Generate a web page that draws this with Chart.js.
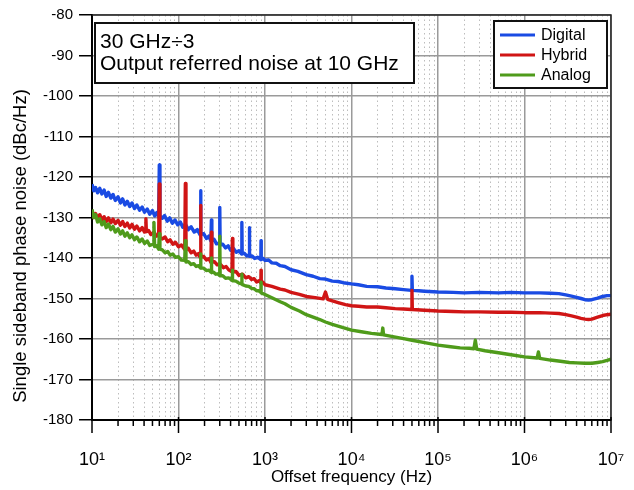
<!DOCTYPE html>
<html>
<head>
<meta charset="utf-8">
<script src="https://cdn.jsdelivr.net/npm/chart.js@4.4.0/dist/chart.umd.min.js"></script>
<style>
  html, body { margin: 0; padding: 0; background: #fff; }
</style>
</head>
<body>
<canvas id="noiseChart" width="634" height="490"></canvas>
<script>
// Serie: [frequenza Hz, dBc/Hz]
const digitalPoints = [
  [10, -121.8], [10.5, -123.4], [11, -122.6], [11.6, -123.9], [12.3, -122.8], [13, -124.2], [13.8, -123.2],
  [14.6, -124.8], [15.5, -123.8], [16.5, -125.2], [17.5, -124.3], [18.6, -125.8], [20, -124.9], [21.3, -126.4],
  [22.6, -125.4], [24, -126.9], [25.6, -126.0], [27.3, -127.3], [29, -126.4], [31, -127.8], [33, -126.9],
  [35.5, -128.2], [38, -127.4], [40.5, -128.7], [43.5, -127.9], [46.5, -129.2], [50, -128.3], [53, -129.6],
  [56, -128.8], [59, -129.8], [60, -117.0], [61, -129.6], [65, -130.2], [69, -129.5], [74, -130.9],
  [79, -130.1], [85, -131.4], [91, -130.6], [98, -131.8], [105, -131.1], [112, -132.4], [120, -131.6],
  [130, -133.0], [140, -132.3], [152, -133.6], [165, -133.0], [178, -134.3], [180, -123.4], [182, -134.2],
  [196, -134.0], [210, -135.2], [224, -134.6], [237, -135.8], [240, -130.6], [243, -135.8], [258, -135.4],
  [275, -136.5], [297, -136.2], [300, -127.5], [303, -136.8], [325, -136.6], [350, -137.5], [375, -137.0],
  [400, -138.1], [430, -137.6], [465, -138.6], [500, -138.2], [535, -139.0], [540, -131.2], [545, -139.0],
  [575, -138.8], [615, -139.5], [655, -139.2], [660, -132.5], [665, -139.6], [710, -139.5], [760, -140.1],
  [820, -139.8], [895, -140.4], [900, -135.7], [905, -140.4], [960, -140.1], [1000, -140.6],
  [1100, -140.5], [1200, -141.2], [1350, -141.3], [1500, -141.9], [1700, -142.1], [2000, -142.9],
  [2400, -143.3], [3000, -144.1], [3600, -144.5], [4300, -145.1], [5000, -145.2], [6000, -145.7],
  [7000, -145.8], [8000, -146.1], [10000, -146.4], [12000, -146.6], [15000, -147.0], [20000, -147.1],
  [25000, -147.4], [32000, -147.6], [40000, -147.8], [49500, -148.0], [50000, -144.5], [50500, -148.0],
  [60000, -148.1], [70000, -148.2], [1e5, -148.4], [1.5e5, -148.5], [2e5, -148.6], [3e5, -148.5],
  [5e5, -148.6], [7e5, -148.5], [1e6, -148.6], [1.5e6, -148.6], [2e6, -148.7], [2.5e6, -148.8],
  [3e6, -149.1], [3.5e6, -149.4], [4e6, -149.7], [4.5e6, -150.0], [5e6, -150.3], [5.5e6, -150.4],
  [6e6, -150.3], [7e6, -149.9], [8e6, -149.5], [9e6, -149.3], [1e7, -149.3]
];
const hybridPoints = [
  [10, -128.4], [10.5, -130.0], [11, -129.0], [11.6, -130.3], [12.3, -129.3], [13, -130.6], [13.8, -129.8],
  [14.6, -131.0], [15.5, -130.1], [16.5, -131.3], [17.5, -130.4], [18.6, -131.5], [20, -130.7], [21.3, -131.9],
  [22.6, -131.0], [24, -132.2], [25.6, -131.4], [27.3, -132.6], [29, -131.7], [31, -132.9], [33, -132.1],
  [35.5, -133.3], [38, -132.5], [40.5, -133.6], [41.5, -133.2], [42, -130.3], [42.5, -133.5],
  [45, -133.2], [48, -134.2], [52, -133.6], [56, -134.6], [59, -134.2], [60, -121.7], [61, -134.8],
  [65, -135.3], [70, -134.8], [75, -136.0], [80, -135.5], [86, -136.6], [92, -136.1], [100, -137.2],
  [108, -136.8], [118, -137.9], [120, -121.6], [122, -138.0], [130, -137.6], [140, -138.7], [150, -138.3],
  [160, -139.3], [170, -138.9], [178, -139.8], [180, -127.0], [182, -139.8], [195, -139.6], [210, -140.5],
  [225, -140.2], [237, -141.1], [240, -133.6], [243, -141.1], [260, -140.9], [280, -141.7], [300, -141.4],
  [330, -142.4], [355, -142.1], [380, -142.9], [415, -143.4], [420, -135.2], [425, -143.5], [460, -143.3],
  [500, -144.3], [550, -144.0], [600, -144.9], [650, -144.6], [700, -145.3], [750, -145.1], [800, -145.9],
  [850, -145.6], [895, -146.1], [900, -143.0], [905, -146.2], [950, -146.0], [1000, -146.6],
  [1200, -147.0], [1500, -147.7], [1700, -147.9], [2000, -148.5], [2500, -149.0], [3000, -149.5],
  [3800, -149.8], [4700, -150.1], [5000, -148.4], [5300, -150.2], [6000, -150.6], [7000, -151.0],
  [8500, -151.5], [10000, -151.8], [12000, -151.9], [15000, -152.1], [20000, -152.1], [25000, -152.3],
  [32000, -152.5], [40000, -152.6], [49500, -152.7], [50000, -148.0], [50500, -152.7], [70000, -152.9],
  [1e5, -153.1], [1.5e5, -153.2], [2e5, -153.3], [3e5, -153.3], [5e5, -153.4], [7e5, -153.4],
  [1e6, -153.5], [1.5e6, -153.5], [2e6, -153.6], [2.5e6, -153.7], [3e6, -154.0], [3.5e6, -154.3],
  [4e6, -154.6], [4.5e6, -154.9], [5e6, -155.1], [5.5e6, -155.2], [6e6, -155.1], [7e6, -154.6],
  [8e6, -154.2], [9e6, -154.0], [1e7, -153.9]
];
const analogPoints = [
  [10, -128.0], [10.5, -130.0], [11, -129.3], [11.6, -131.1], [12.3, -130.3], [13, -131.8], [13.8, -131.0],
  [14.6, -132.5], [15.5, -131.6], [16.5, -133.0], [17.5, -132.2], [18.6, -133.6], [20, -132.8], [21.3, -134.1],
  [22.6, -133.3], [24, -134.6], [25.6, -133.8], [27.3, -135.0], [29, -134.3], [31, -135.5], [33, -134.8],
  [35.5, -136.0], [38, -135.3], [40.5, -136.4], [43.5, -135.8], [46.5, -136.9], [51, -136.6], [52, -131.2],
  [53, -137.2], [56, -137.0], [59, -137.8], [60, -134.0], [61, -137.8], [65, -138.0], [70, -138.7],
  [75, -138.4], [80, -139.3], [86, -139.0], [92, -139.8], [100, -139.7], [108, -140.5], [118, -140.6],
  [120, -135.7], [122, -141.0], [130, -140.9], [140, -141.6], [150, -141.4], [160, -142.1], [170, -141.9],
  [178, -142.4], [180, -139.0], [182, -142.5], [195, -142.5], [210, -143.1], [225, -143.0], [238, -143.5],
  [240, -140.0], [242, -143.6], [255, -143.5], [270, -144.0], [285, -143.9], [297, -144.3], [300, -134.6],
  [303, -144.4], [325, -144.4], [350, -145.0], [380, -144.9], [418, -145.5], [420, -143.0], [422, -145.6],
  [460, -145.7], [500, -146.2], [538, -146.4], [540, -144.0], [542, -146.5], [600, -146.9], [650, -147.0],
  [700, -147.5], [750, -147.6], [800, -148.1], [850, -148.1], [898, -148.5], [900, -146.0], [902, -148.6],
  [1000, -149.0], [1200, -149.8], [1500, -150.8], [1700, -151.3], [2000, -152.2], [2500, -153.1],
  [3000, -154.0], [3600, -154.6], [4300, -155.2], [5000, -155.8], [6000, -156.4], [7000, -156.8],
  [8000, -157.2], [10000, -157.8], [13000, -158.2], [17000, -158.6], [22500, -158.9], [23000, -157.3],
  [23500, -159.0], [30000, -159.4], [40000, -159.9], [50000, -160.3], [70000, -160.9], [1e5, -161.5],
  [1.4e5, -161.9], [1.8e5, -162.2], [2.3e5, -162.3], [2.6e5, -162.4], [2.7e5, -160.3], [2.8e5, -162.5],
  [3.5e5, -162.9], [5e5, -163.4], [7e5, -163.9], [1e6, -164.4], [1.4e6, -164.7], [1.45e6, -163.2],
  [1.5e6, -164.8], [2e6, -165.2], [2.6e6, -165.5], [3.3e6, -165.8], [4e6, -165.9], [5e6, -166.0],
  [6e6, -166.0], [7e6, -165.8], [8e6, -165.6], [9e6, -165.3], [1e7, -165.0]
];

const seriesNames = ['Digital', 'Hybrid', 'Analog'];
const seriesColors = ['#1a4be3', '#d01515', '#4f9b1b'];
const decades = [10, 100, 1e3, 1e4, 1e5, 1e6, 1e7];
const exponents = ['\u00b9', '\u00b2', '\u00b3', '\u2074', '\u2075', '\u2076', '\u2077'];
const noteLines = ['30 GHz\u00f73', 'Output referred noise at 10 GHz'];
const yTitle = 'Single sideband phase noise (dBc/Hz)';
const xTitle = 'Offset frequency (Hz)';
const yMin = -180, yMax = -80, yStep = 10;

const fontFamily = '"Liberation Sans", Arial, sans-serif';

// tick a 1..9 per ogni decade
const xTickValues = [];
decades.forEach((d, i) => {
  if (i === decades.length - 1) { xTickValues.push(d); return; }
  for (let m = 1; m <= 9; m++) xTickValues.push(m * d);
});
const isDecade = v => decades.some(d => Math.abs(d - v) < 1e-6 * d);

const toXY = pts => pts.map(p => ({ x: p[0], y: p[1] }));

// cornice, tacche asse x, titolo y, riquadro note e legenda
const decorPlugin = {
  id: 'decor',
  afterDraw(chart) {
    const { ctx, chartArea: a, scales } = chart;
    ctx.save();
    // bordo sopra e destra
    ctx.strokeStyle = '#222';
    ctx.lineWidth = 1.5;
    ctx.beginPath();
    ctx.moveTo(a.left, a.top);
    ctx.lineTo(a.right, a.top);
    ctx.lineTo(a.right, a.bottom);
    ctx.stroke();
    // tacche asse x
    ctx.strokeStyle = '#000';
    ctx.lineWidth = 1.5;
    xTickValues.forEach(v => {
      const x = scales.x.getPixelForValue(v);
      ctx.beginPath();
      if (isDecade(v)) { ctx.moveTo(x, a.bottom - 3); ctx.lineTo(x, a.bottom + 13); }
      else { ctx.moveTo(x, a.bottom); ctx.lineTo(x, a.bottom + 6); }
      ctx.stroke();
    });

    // titolo asse y
    ctx.save();
    ctx.translate(21, 246);
    ctx.rotate(-Math.PI / 2);
    ctx.fillStyle = '#000';
    ctx.font = '18.5px ' + fontFamily;
    ctx.textAlign = 'center';
    ctx.textBaseline = 'middle';
    ctx.fillText(yTitle, 0, 0);
    ctx.restore();

    // riquadro note
    ctx.fillStyle = '#fff';
    ctx.fillRect(a.left + 3, a.top + 8, 319, 60);
    ctx.strokeStyle = '#111';
    ctx.lineWidth = 2;
    ctx.strokeRect(a.left + 3, a.top + 8, 319, 60);
    ctx.fillStyle = '#000';
    ctx.font = '21px ' + fontFamily;
    ctx.textBaseline = 'alphabetic';
    ctx.textAlign = 'left';
    ctx.fillText(noteLines[0], a.left + 8, a.top + 33);
    ctx.fillText(noteLines[1], a.left + 8, a.top + 55);

    // legenda
    const lx = a.right - 117, ly = a.top + 6, lw = 113, lh = 67;
    ctx.fillStyle = '#fff';
    ctx.fillRect(lx, ly, lw, lh);
    ctx.strokeStyle = '#111';
    ctx.lineWidth = 2;
    ctx.strokeRect(lx, ly, lw, lh);
    ctx.font = '16px ' + fontFamily;
    ctx.textBaseline = 'middle';
    seriesNames.forEach((name, i) => {
      const yy = ly + 14 + i * 20;
      ctx.strokeStyle = seriesColors[i];
      ctx.lineWidth = 3;
      ctx.beginPath();
      ctx.moveTo(lx + 6, yy);
      ctx.lineTo(lx + 41, yy);
      ctx.stroke();
      ctx.fillStyle = '#000';
      ctx.fillText(name, lx + 47, yy + 1);
    });
    ctx.restore();
  }
};

const ctx = document.getElementById('noiseChart').getContext('2d');

new Chart(ctx, {
  type: 'line',
  data: {
    datasets: [
      { label: seriesNames[0], data: toXY(digitalPoints), borderColor: seriesColors[0], order: 3 },
      { label: seriesNames[1], data: toXY(hybridPoints), borderColor: seriesColors[1], order: 2 },
      { label: seriesNames[2], data: toXY(analogPoints), borderColor: seriesColors[2], order: 1 }
    ]
  },
  options: {
    responsive: false,
    animation: false,
    devicePixelRatio: 1,
    layout: { padding: { top: 14, right: 23, left: 0, bottom: 0 } },
    elements: {
      point: { radius: 0 },
      line: { borderWidth: 3.4, tension: 0, fill: false, borderJoinStyle: 'round' }
    },
    plugins: {
      legend: { display: false },
      tooltip: { enabled: false }
    },
    scales: {
      x: {
        type: 'logarithmic',
        min: 10,
        max: 1e7,
        afterBuildTicks: scale => {
          scale.ticks = xTickValues.map(v => ({ value: v, major: isDecade(v) }));
        },
        afterFit: scale => {
          scale.height = 70;
          scale.paddingLeft = 0;
          scale.paddingRight = 0;
        },
        ticks: {
          autoSkip: false,
          maxRotation: 0,
          padding: 29,
          color: '#000',
          font: { family: fontFamily, size: 18 },
          callback: value => {
            const i = decades.findIndex(d => Math.abs(d - value) < 1e-6 * d);
            return i >= 0 ? '10' + exponents[i] : '';
          }
        },
        grid: {
          drawTicks: false,
          color: c => (c.tick && isDecade(c.tick.value)) ? '#9a9a9a' : '#bdbdbd',
          lineWidth: c => (c.tick && isDecade(c.tick.value)) ? 1.5 : 1
        },
        border: {
          color: '#000',
          width: 2,
          dash: c => (c.tick && !isDecade(c.tick.value)) ? [1.5, 3] : []
        },
        title: {
          display: true,
          text: xTitle,
          color: '#000',
          font: { family: fontFamily, size: 17 },
          padding: { top: 0, bottom: 2 }
        }
      },
      y: {
        min: yMin,
        max: yMax,
        afterFit: scale => { scale.width = 92; },
        ticks: {
          stepSize: yStep,
          padding: 6,
          color: '#000',
          font: { family: fontFamily, size: 15 }
        },
        grid: {
          color: '#9a9a9a',
          lineWidth: 1.5,
          tickLength: 13,
          tickColor: '#000',
          tickWidth: 1.5
        },
        border: { color: '#000', width: 2 },
        title: { display: false }
      }
    }
  },
  plugins: [decorPlugin]
});
</script>
</body>
</html>
